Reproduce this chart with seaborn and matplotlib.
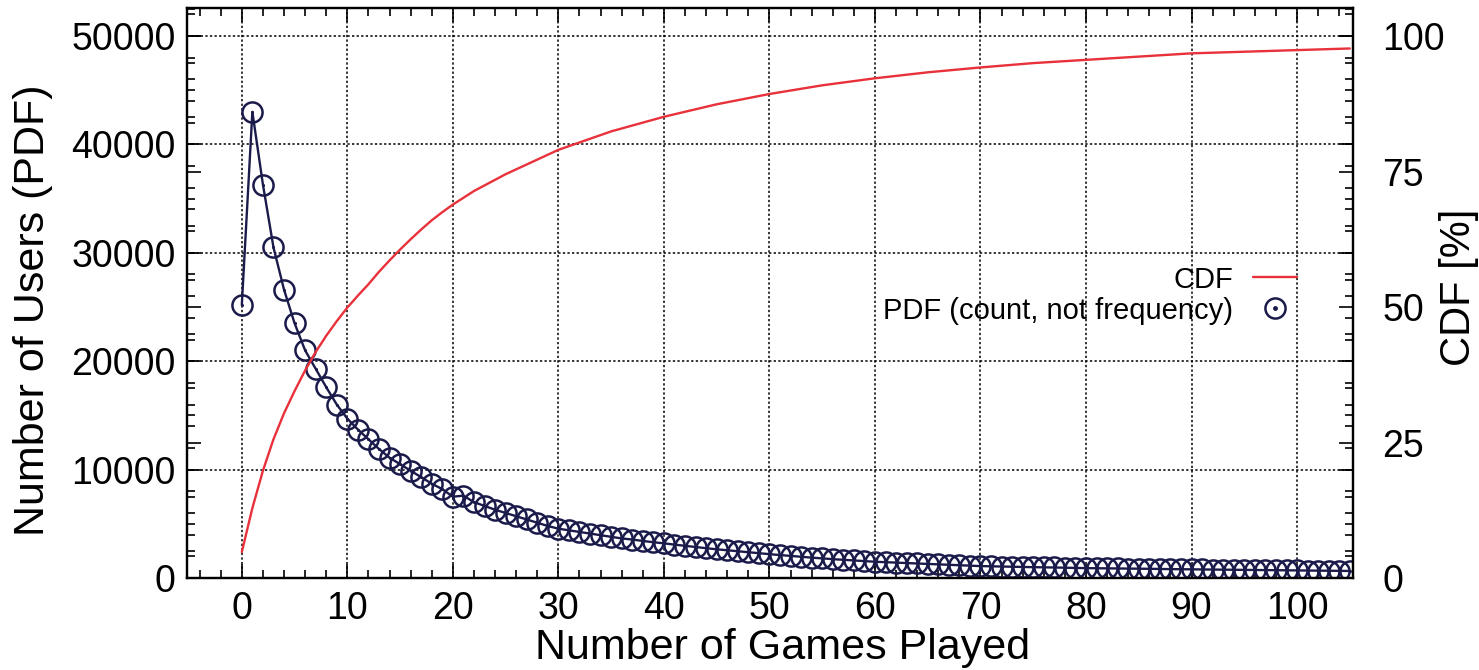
import numpy as np
import pandas as pd
import matplotlib
matplotlib.use("Agg")
import matplotlib.pyplot as plt
from matplotlib.lines import Line2D
from matplotlib.ticker import MultipleLocator
import seaborn as sns

# ---- data ----
games_played = list(range(0, 106))
pdf_users = [
    25200, 43000, 36300, 30500, 26600, 23500, 21000, 19300, 17600, 16000,
    14700, 13700, 12800, 11900, 11100, 10500, 9900, 9300, 8700, 8200,
    7500, 7600, 7000, 6650, 6300, 6000, 5700, 5400, 5100, 4800,
    4550, 4400, 4250, 4100, 3950, 3800, 3650, 3550, 3420, 3300,
    3200, 3080, 2970, 2860, 2750, 2650, 2560, 2470, 2380, 2290,
    2200, 2120, 2040, 1960, 1880, 1810, 1740, 1680, 1620, 1560,
    1500, 1460, 1420, 1380, 1340, 1300, 1260, 1220, 1180, 1140,
    1100, 1080, 1060, 1040, 1020, 1000, 985, 970, 950, 930,
    910, 900, 890, 880, 870, 860, 850, 835, 820, 810,
    800, 790, 780, 770, 760, 750, 740, 730, 720, 710,
    700, 690, 680, 670, 660, 650,
]
cdf_x = [0, 1, 2, 3, 4, 5, 6, 7, 8, 9, 10, 11, 12, 13, 14, 15, 16, 17, 18,
         19, 20, 22, 25, 27, 30, 35, 40, 45, 50, 55, 60, 65, 70, 75, 80, 85,
         90, 95, 100, 105]
cdf_pct = [4.8, 12.9, 19.8, 25.6, 30.4, 34.5, 38.3, 41.7, 44.7, 47.4, 49.9,
           52.1, 54.2, 56.5, 58.6, 60.6, 62.5, 64.3, 66.0, 67.5, 68.9, 71.4,
           74.5, 76.3, 79.0, 82.4, 85.1, 87.4, 89.3, 90.9, 92.2, 93.3, 94.2,
           95.0, 95.6, 96.2, 96.8, 97.1, 97.4, 97.7]

left_ticks = [0, 10000, 20000, 30000, 40000, 50000]
right_ticks = [0, 25, 50, 75, 100]
x_ticks = [0, 10, 20, 30, 40, 50, 60, 70, 80, 90, 100]

pdf_df = pd.DataFrame({"games": games_played, "users": pdf_users})
cdf_df = pd.DataFrame({"games": cdf_x, "cdf": cdf_pct})

# ---- style ----
sns.set_style("ticks")
plt.rcParams["font.family"] = ["Liberation Sans", "DejaVu Sans"]
plt.rcParams["text.color"] = "black"
plt.rcParams["axes.labelcolor"] = "black"
plt.rcParams["xtick.color"] = "black"
plt.rcParams["ytick.color"] = "black"

NAVY = "#1b1b4b"
RED = "#e8313a"
FS_TICK = 27
FS_LABEL = 30

fig = plt.figure(figsize=(14.79, 6.70), dpi=100)
ax = fig.add_axes([0.1264, 0.1373, 0.7884, 0.8507])
ax2 = ax.twinx()

sns.lineplot(data=pdf_df, x="games", y="users", ax=ax, color=NAVY, lw=1.7,
             marker="o", markersize=14.5, markerfacecolor="none",
             markeredgecolor=NAVY, markeredgewidth=1.8, zorder=3)
sns.scatterplot(data=pdf_df, x="games", y="users", ax=ax, color=NAVY,
                s=5, linewidth=0, zorder=4)

sns.lineplot(data=cdf_df, x="games", y="cdf", ax=ax2, color=RED, lw=1.7,
             zorder=3)

ax.set_xlim(-5.2, 105.3)
ax.set_ylim(0, 52580)
ax2.set_ylim(0, 105.16)

ax.set_xticks(x_ticks)
ax.set_yticks(left_ticks)
ax2.set_yticks(right_ticks)
ax.xaxis.set_minor_locator(MultipleLocator(2))
ax.yaxis.set_minor_locator(MultipleLocator(2000))
ax2.yaxis.set_minor_locator(MultipleLocator(5))

ax.grid(True, which="major", color="black", linestyle=(0, (1.5, 1.5)), lw=1.1)
ax.set_axisbelow(True)

ax.tick_params(axis="both", which="both", direction="in", top=True,
               right=True, left=True, bottom=True, labelsize=FS_TICK,
               color="black", width=1.2)
ax.tick_params(which="major", length=10)
ax.tick_params(which="minor", length=6)
ax.tick_params(axis="x", pad=9)
ax.tick_params(axis="y", pad=8, labelright=False)
ax2.tick_params(axis="y", which="both", direction="in", left=True,
                right=True, labelleft=False, labelright=True,
                labelsize=FS_TICK, width=1.2, pad=21)
ax2.tick_params(which="major", length=10)
ax2.tick_params(which="minor", length=6)

for a in (ax, ax2):
    for s in a.spines.values():
        s.set_visible(True)
        s.set_color("black")
        s.set_linewidth(1.6)

ax.set_xlabel("Number of Games Played", fontsize=31)
ax.xaxis.set_label_coords(0.511, -0.088)
ax.set_ylabel("Number of Users (PDF)", fontsize=31)
ax.yaxis.set_label_coords(-0.115, 0.47)
ax2.set_ylabel("CDF [%]", fontsize=FS_LABEL)
ax2.yaxis.set_label_coords(1.074, 0.51)

h_cdf = Line2D([], [], color=RED, lw=1.7)
h_circ = Line2D([], [], color=NAVY, marker="o", markersize=14.5,
                markerfacecolor="none", markeredgewidth=1.8, linestyle="none")
h_dot = Line2D([], [], color=NAVY, marker="o", markersize=2.5,
               linestyle="none")
leg = ax2.legend([h_cdf, (h_circ, h_dot)],
                 ["CDF", "PDF (count, not frequency)"],
                 loc="upper right", bbox_to_anchor=(0.952, 0.548),
                 frameon=False, markerfirst=False, fontsize=21,
                 handlelength=1.5, handletextpad=0.7, labelspacing=0.1,
                 borderpad=0.0, borderaxespad=0.0)

fig.savefig("out.png", dpi=100)
